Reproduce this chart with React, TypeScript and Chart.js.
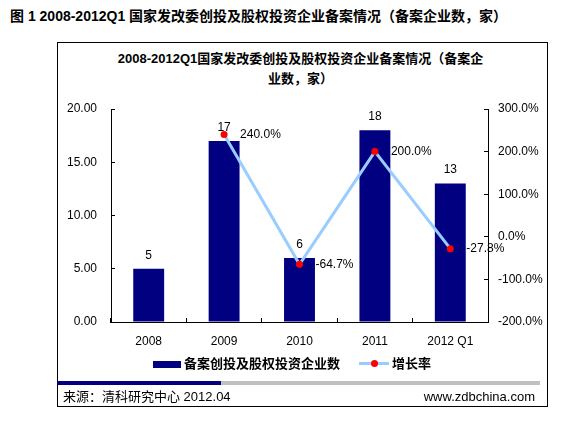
import React, { useEffect, useRef } from "react";
import { Chart, registerables } from "chart.js";

Chart.register(...registerables);

// ---- data ----
const categories = ["2008", "2009", "2010", "2011", "2012 Q1"];
const filingCounts = [5, 17, 6, 18, 13];
const growthRates: (number | null)[] = [null, 240.0, -64.7, 200.0, -27.8];

const countAxisMin = 0;
const countAxisMax = 20;
const countAxisStep = 5;
const rateAxisMin = -200;
const rateAxisMax = 300;
const rateAxisStep = 100;

const barSeriesName = "备案创投及股权投资企业数";
const lineSeriesName = "增长率";
const pageTitle = "图 1 2008-2012Q1 国家发改委创投及股权投资企业备案情况（备案企业数，家）";
const chartTitleLines = ["2008-2012Q1国家发改委创投及股权投资企业备案情况（备案企", "业数，家）"];
const sourceText = "来源：清科研究中心 2012.04";
const siteText = "www.zdbchina.com";

// ---- styles ----
const FONT = '"Liberation Sans", Arial, "Noto Sans CJK SC", sans-serif';
const BAR_COLOR = "#000080";
const LINE_COLOR = "#99CCFF";
const POINT_COLOR = "#FF0000";

const valueLabelPlugin = {
  id: "valueLabels",
  afterDatasetsDraw(chart: any) {
    const ctx = chart.ctx;
    ctx.save();
    ctx.font = `12px ${FONT}`;
    ctx.fillStyle = "#000";
    ctx.textBaseline = "middle";
    const barMeta = chart.getDatasetMeta(0);
    barMeta.data.forEach((el: any, i: number) => {
      ctx.textAlign = "center";
      ctx.fillText(String(filingCounts[i]), el.x, el.y - 13.5);
    });
    const lineMeta = chart.getDatasetMeta(1);
    lineMeta.data.forEach((el: any, i: number) => {
      const v = growthRates[i];
      if (v === null || v === undefined) return;
      ctx.textAlign = "left";
      ctx.fillText(v.toFixed(1) + "%", el.x + 16, el.y);
    });
    ctx.restore();
  },
};

export default function App() {
  const canvasRef = useRef<HTMLCanvasElement | null>(null);

  useEffect(() => {
    if (!canvasRef.current) return;
    const chart = new Chart(canvasRef.current, {
      type: "bar",
      data: {
        labels: categories,
        datasets: [
          {
            type: "bar",
            label: barSeriesName,
            data: filingCounts,
            backgroundColor: BAR_COLOR,
            borderWidth: 0,
            barPercentage: 0.41,
            categoryPercentage: 1.0,
            yAxisID: "y",
            order: 1,
          },
          {
            type: "line",
            label: lineSeriesName,
            data: growthRates,
            borderColor: LINE_COLOR,
            borderWidth: 3,
            pointBackgroundColor: POINT_COLOR,
            pointBorderColor: POINT_COLOR,
            pointRadius: 3.5,
            pointBorderWidth: 0,
            spanGaps: false,
            tension: 0,
            yAxisID: "y1",
            order: 0,
          } as any,
        ],
      },
      options: {
        animation: false,
        responsive: false,
        devicePixelRatio: 1,
        layout: { padding: { left: 0, right: 0, top: 109, bottom: 0 } },
        plugins: {
          legend: { display: false },
          title: { display: false },
          tooltip: { enabled: false },
        },
        scales: {
          x: {
            offset: true,
            grid: {
              display: true,
              drawOnChartArea: false,
              drawTicks: true,
              tickLength: -4,
              color: "#000",
              offset: true,
            },
            border: { display: true, color: "#000", width: 1 },
            ticks: { color: "#000", font: { family: FONT, size: 12 }, padding: 16, maxRotation: 0 },
            afterFit: (s: any) => {
              s.height = 101;
            },
          },
          y: {
            position: "left",
            min: countAxisMin,
            max: countAxisMax,
            grid: {
              display: true,
              drawOnChartArea: false,
              drawTicks: true,
              tickLength: -4,
              color: "#000",
            },
            border: { display: true, color: "#000", width: 1 },
            ticks: {
              stepSize: countAxisStep,
              color: "#000",
              font: { family: FONT, size: 12 },
              padding: 18,
              callback: (v: any) => Number(v).toFixed(2),
            },
            afterFit: (s: any) => {
              s.width = 111;
            },
          },
          y1: {
            position: "right",
            min: rateAxisMin,
            max: rateAxisMax,
            grid: {
              display: true,
              drawOnChartArea: false,
              drawTicks: true,
              tickLength: -4,
              color: "#000",
            },
            border: { display: true, color: "#000", width: 1 },
            ticks: {
              stepSize: rateAxisStep,
              color: "#000",
              font: { family: FONT, size: 12 },
              padding: 14,
              callback: (v: any) => Number(v).toFixed(1) + "%",
            },
            afterFit: (s: any) => {
              s.width = 76;
            },
          },
        },
      } as any,
      plugins: [valueLabelPlugin],
    });
    return () => chart.destroy();
  }, []);

  const abs = (o: React.CSSProperties): React.CSSProperties => ({ position: "absolute", ...o });

  return (
    <div style={abs({ left: 0, top: 0, width: 564, height: 423, background: "#fff", fontFamily: FONT, color: "#000" })}>
      <div
        style={abs({
          left: 10,
          top: 8,
          fontSize: 14,
          lineHeight: "17px",
          fontWeight: 700,
          whiteSpace: "nowrap",
        })}
      >
        {pageTitle}
      </div>
      <div
        style={abs({
          left: 57,
          top: 42,
          width: 491,
          height: 365,
          border: "1px solid #000",
          boxSizing: "border-box",
        })}
      />
      <div
        style={abs({
          left: 100,
          top: 49,
          width: 401,
          textAlign: "center",
          fontSize: 13,
          lineHeight: "20px",
          fontWeight: 700,
          whiteSpace: "nowrap",
        })}
      >
        {chartTitleLines.map((l, i) => (
          <div key={i}>{l}</div>
        ))}
      </div>
      <canvas ref={canvasRef} width={564} height={423} style={abs({ left: 0, top: 0, width: 564, height: 423 })} />
      {/* legend */}
      <div style={abs({ left: 153, top: 361, width: 28, height: 7, background: BAR_COLOR })} />
      <div
        style={abs({ left: 184, top: 355, fontSize: 13, lineHeight: "17px", fontWeight: 700, whiteSpace: "nowrap" })}
      >
        {barSeriesName}
      </div>
      <div style={abs({ left: 359, top: 361.5, width: 30, height: 3, background: LINE_COLOR })} />
      <div
        style={abs({ left: 370.5, top: 359.5, width: 7, height: 7, borderRadius: "50%", background: POINT_COLOR })}
      />
      <div
        style={abs({ left: 392, top: 355, fontSize: 13, lineHeight: "17px", fontWeight: 700, whiteSpace: "nowrap" })}
      >
        {lineSeriesName}
      </div>
      {/* footer */}
      <div style={abs({ left: 57, top: 381, width: 164, height: 4, background: BAR_COLOR })} />
      <div style={abs({ left: 221, top: 381, width: 319, height: 4, background: "#C0C0C0" })} />
      <div style={abs({ left: 63, top: 388, fontSize: 13, lineHeight: "17px", whiteSpace: "nowrap" })}>
        {sourceText}
      </div>
      <div
        style={abs({ left: 300, width: 235, top: 388, fontSize: 13, lineHeight: "17px", textAlign: "right", whiteSpace: "nowrap" })}
      >
        {siteText}
      </div>
    </div>
  );
}
